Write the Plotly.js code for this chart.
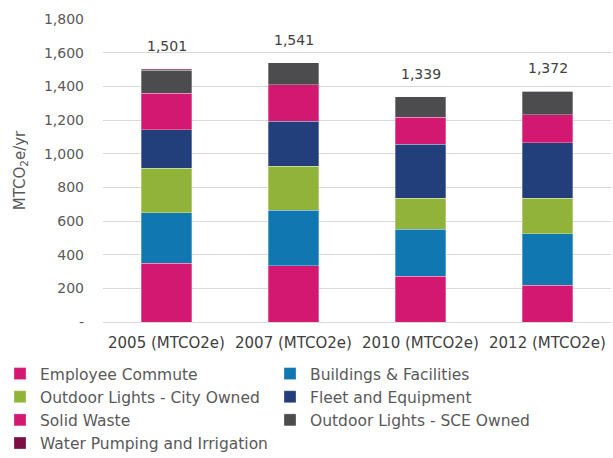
<!DOCTYPE html>
<html>
<head>
<meta charset="utf-8">
<script src="https://cdn.plot.ly/plotly-3.0.1.min.js"></script>
<style>html,body{margin:0;padding:0;background:#fff}#chart{width:613px;height:458px}</style>
</head>
<body>
<div id="chart"></div>
<script>
const categories = ["2005 (MTCO2e)", "2007 (MTCO2e)", "2010 (MTCO2e)", "2012 (MTCO2e)"];
const employeeCommute = [350, 333, 273, 218];
const buildings = [300, 332, 278, 305];
const lightsCity = [264, 260, 184, 212];
const fleet = [228, 269, 321, 331];
const solidWaste = [218, 214, 160, 164];
const lightsSCE = [135, 133, 123, 142];
const waterPumping = [6, 0, 0, 0];
const totals = [1501, 1541, 1339, 1372];
const totalLabels = ["1,501", "1,541", "1,339", "1,372"];
const yTickVals = [0, 200, 400, 600, 800, 1000, 1200, 1400, 1600, 1800];
const yTickText = ["-", "200", "400", "600", "800", "1,000", "1,200", "1,400", "1,600", "1,800"];

const seriesNames = ["Employee Commute", "Buildings & Facilities", "Outdoor Lights - City Owned", "Fleet and Equipment", "Solid Waste", "Outdoor Lights - SCE Owned", "Water Pumping and Irrigation"];
const seriesValues = [employeeCommute, buildings, lightsCity, fleet, solidWaste, lightsSCE, waterPumping];
const seriesColors = ["#D31872", "#1177B0", "#92B33A", "#223E7B", "#D31872", "#4C4C4E", "#7A0E45"];

const font = "DejaVu Sans, sans-serif";
const traces = seriesNames.map((n, i) => ({
  type: "bar",
  name: n,
  x: categories,
  y: seriesValues[i],
  marker: {color: seriesColors[i], line: {color: "rgba(255,255,255,0.5)", width: 0.6}},
  hoverinfo: "skip"
}));

const annotations = categories.map((c, i) => ({
  x: c, y: totals[i], text: totalLabels[i], showarrow: false,
  yanchor: "bottom", yshift: 13, font: {family: font, size: 14, color: "#404040"}
}));

const layout = {
  width: 613, height: 458,
  margin: {l: 103, r: 2, t: 19, b: 136, autoexpand: false},
  barmode: "stack",
  bargap: 0.6,
  paper_bgcolor: "#fff", plot_bgcolor: "#fff",
  font: {family: font, size: 14, color: "#595959"},
  xaxis: {
    tickfont: {family: font, size: 15, color: "#404040"},
    showgrid: false, showline: false, ticks: "", zeroline: false,
    ticklabelstandoff: 10
  },
  yaxis: {
    range: [0, 1800],
    tickvals: yTickVals, ticktext: yTickText,
    tickfont: {family: font, size: 14, color: "#595959"},
    gridcolor: "#D9D9D9", gridwidth: 1,
    zeroline: true, zerolinecolor: "#D9D9D9", zerolinewidth: 1,
    ticklabelstandoff: 18,
    title: {text: "MTCO<sub>2</sub>e/yr", font: {family: font, size: 15, color: "#595959"}, standoff: 14}
  },
  showlegend: true,
  legend: {
    orientation: "h", xref: "paper", yref: "paper",
    x: -103 / 508, y: -35 / 303,
    xanchor: "left", yanchor: "top",
    entrywidth: 225, entrywidthmode: "pixels", itemwidth: 30,
    traceorder: "normal",
    font: {family: font, size: 15.5, color: "#595959"},
    tracegroupgap: 0
  },
  annotations: annotations
};

Plotly.newPlot("chart", traces, layout, {displayModeBar: false, staticPlot: true});
</script>
</body>
</html>
